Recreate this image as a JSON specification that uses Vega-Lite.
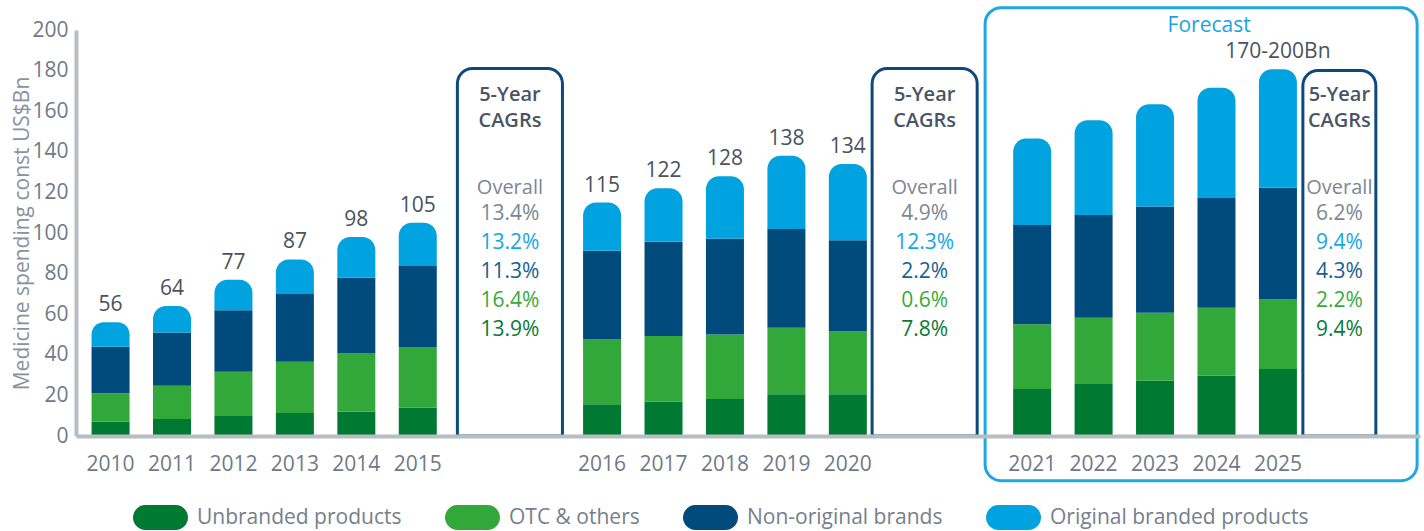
{
  "$schema": "https://vega.github.io/schema/vega-lite/v6.json",
  "width": 1344,
  "height": 406,
  "autosize": {"type": "none"},
  "padding": {"left": 76, "top": 30, "right": 4, "bottom": 95},
  "config": {
    "font": "Open Sans",
    "view": {"stroke": null},
    "text": {"font": "Open Sans"}
  },
  "datasets": {
    "bars": [
      {"slot": "2010", "category": "Unbranded products", "value": 7},
      {"slot": "2010", "category": "OTC & others", "value": 14},
      {"slot": "2010", "category": "Non-original brands", "value": 23},
      {"slot": "2010", "category": "Original branded products", "value": 12},
      {"slot": "2011", "category": "Unbranded products", "value": 8.4},
      {"slot": "2011", "category": "OTC & others", "value": 16.4},
      {"slot": "2011", "category": "Non-original brands", "value": 26.2},
      {"slot": "2011", "category": "Original branded products", "value": 13},
      {"slot": "2012", "category": "Unbranded products", "value": 9.8},
      {"slot": "2012", "category": "OTC & others", "value": 21.8},
      {"slot": "2012", "category": "Non-original brands", "value": 30.4},
      {"slot": "2012", "category": "Original branded products", "value": 15},
      {"slot": "2013", "category": "Unbranded products", "value": 11.3},
      {"slot": "2013", "category": "OTC & others", "value": 25.3},
      {"slot": "2013", "category": "Non-original brands", "value": 33.4},
      {"slot": "2013", "category": "Original branded products", "value": 17},
      {"slot": "2014", "category": "Unbranded products", "value": 12.1},
      {"slot": "2014", "category": "OTC & others", "value": 28.5},
      {"slot": "2014", "category": "Non-original brands", "value": 37.4},
      {"slot": "2014", "category": "Original branded products", "value": 20},
      {"slot": "2015", "category": "Unbranded products", "value": 13.9},
      {"slot": "2015", "category": "OTC & others", "value": 30},
      {"slot": "2015", "category": "Non-original brands", "value": 39.9},
      {"slot": "2015", "category": "Original branded products", "value": 21.2},
      {"slot": "2016", "category": "Unbranded products", "value": 15.7},
      {"slot": "2016", "category": "OTC & others", "value": 31.8},
      {"slot": "2016", "category": "Non-original brands", "value": 43.7},
      {"slot": "2016", "category": "Original branded products", "value": 23.8},
      {"slot": "2017", "category": "Unbranded products", "value": 17},
      {"slot": "2017", "category": "OTC & others", "value": 32.2},
      {"slot": "2017", "category": "Non-original brands", "value": 46.5},
      {"slot": "2017", "category": "Original branded products", "value": 26.3},
      {"slot": "2018", "category": "Unbranded products", "value": 18.2},
      {"slot": "2018", "category": "OTC & others", "value": 31.8},
      {"slot": "2018", "category": "Non-original brands", "value": 47.2},
      {"slot": "2018", "category": "Original branded products", "value": 30.8},
      {"slot": "2019", "category": "Unbranded products", "value": 20.6},
      {"slot": "2019", "category": "OTC & others", "value": 32.7},
      {"slot": "2019", "category": "Non-original brands", "value": 48.7},
      {"slot": "2019", "category": "Original branded products", "value": 36},
      {"slot": "2020", "category": "Unbranded products", "value": 20.6},
      {"slot": "2020", "category": "OTC & others", "value": 30.9},
      {"slot": "2020", "category": "Non-original brands", "value": 44.9},
      {"slot": "2020", "category": "Original branded products", "value": 37.6},
      {"slot": "2021", "category": "Unbranded products", "value": 23.1},
      {"slot": "2021", "category": "OTC & others", "value": 31.9},
      {"slot": "2021", "category": "Non-original brands", "value": 49},
      {"slot": "2021", "category": "Original branded products", "value": 42.5},
      {"slot": "2022", "category": "Unbranded products", "value": 25.6},
      {"slot": "2022", "category": "OTC & others", "value": 32.7},
      {"slot": "2022", "category": "Non-original brands", "value": 50.6},
      {"slot": "2022", "category": "Original branded products", "value": 46.7},
      {"slot": "2023", "category": "Unbranded products", "value": 27.2},
      {"slot": "2023", "category": "OTC & others", "value": 33.5},
      {"slot": "2023", "category": "Non-original brands", "value": 52.3},
      {"slot": "2023", "category": "Original branded products", "value": 50.4},
      {"slot": "2024", "category": "Unbranded products", "value": 29.7},
      {"slot": "2024", "category": "OTC & others", "value": 33.5},
      {"slot": "2024", "category": "Non-original brands", "value": 54.1},
      {"slot": "2024", "category": "Original branded products", "value": 54.3},
      {"slot": "2025", "category": "Unbranded products", "value": 33},
      {"slot": "2025", "category": "OTC & others", "value": 34.3},
      {"slot": "2025", "category": "Non-original brands", "value": 55},
      {"slot": "2025", "category": "Original branded products", "value": 58.4}
    ],
    "totals": [
      {"slot": "2010", "total": 56, "label": "56"},
      {"slot": "2011", "total": 64, "label": "64"},
      {"slot": "2012", "total": 77, "label": "77"},
      {"slot": "2013", "total": 87, "label": "87"},
      {"slot": "2014", "total": 98, "label": "98"},
      {"slot": "2015", "total": 105, "label": "105"},
      {"slot": "2016", "total": 115, "label": "115"},
      {"slot": "2017", "total": 122, "label": "122"},
      {"slot": "2018", "total": 128, "label": "128"},
      {"slot": "2019", "total": 138, "label": "138"},
      {"slot": "2020", "total": 134, "label": "134"},
      {"slot": "2025", "total": 180.7, "label": "170-200Bn"}
    ],
    "boxes": [
      {"slot": "g1", "period": "2010-2015", "line1": "5-Year", "line2": "CAGRs", "overall": "Overall"},
      {"slot": "g2", "period": "2015-2020", "line1": "5-Year", "line2": "CAGRs", "overall": "Overall"},
      {"slot": "g3", "period": "2020-2025", "line1": "5-Year", "line2": "CAGRs", "overall": "Overall"}
    ],
    "forecast": [
      {"slot": "fc", "label": "Forecast"}
    ],
    "cagr": [
      {"slot": "g1", "series": "Overall", "cagr": "13.4%"},
      {"slot": "g1", "series": "Original branded products", "cagr": "13.2%"},
      {"slot": "g1", "series": "Non-original brands", "cagr": "11.3%"},
      {"slot": "g1", "series": "OTC & others", "cagr": "16.4%"},
      {"slot": "g1", "series": "Unbranded products", "cagr": "13.9%"},
      {"slot": "g2", "series": "Overall", "cagr": "4.9%"},
      {"slot": "g2", "series": "Original branded products", "cagr": "12.3%"},
      {"slot": "g2", "series": "Non-original brands", "cagr": "2.2%"},
      {"slot": "g2", "series": "OTC & others", "cagr": "0.6%"},
      {"slot": "g2", "series": "Unbranded products", "cagr": "7.8%"},
      {"slot": "g3", "series": "Overall", "cagr": "6.2%"},
      {"slot": "g3", "series": "Original branded products", "cagr": "9.4%"},
      {"slot": "g3", "series": "Non-original brands", "cagr": "4.3%"},
      {"slot": "g3", "series": "OTC & others", "cagr": "2.2%"},
      {"slot": "g3", "series": "Unbranded products", "cagr": "9.4%"}
    ]
  },
  "encoding": {
    "x": {
      "field": "slot",
      "type": "ordinal",
      "scale": {
        "type": "band",
        "paddingInner": 0,
        "paddingOuter": 0.75,
        "domain": ["s_a","2010","s1","s2","s3","2011","s5","s6","s7","2012","s9","s10","s11","2013","s13","s14","s15","2014","s17","s18","s19","2015","s21","s22","s23","s24","s25","g1","s27","s28","s29","s30","s31","2016","s33","s34","s35","2017","s37","s38","s39","2018","s41","s42","s43","2019","s45","s46","s47","2020","s49","s50","s51","s52","g2","s54","s55","s56","s57","s58","s59","2021","s61","s62","s63","2022","s65","s66","s67","2023","s69","s70","fc","2024","s73","s74","s75","2025","s77","s78","s79","g3","s81","s82","s83","s_b"]
      },
      "axis": {
        "values": ["2010","2011","2012","2013","2014","2015","2016","2017","2018","2019","2020","2021","2022","2023","2024","2025"],
        "title": null,
        "labelAngle": 0,
        "ticks": false,
        "tickSize": 0,
        "labelPadding": 17,
        "labelFont": "Open Sans",
        "labelFontSize": 21,
        "labelColor": "#6f7a86",
        "domainColor": "#b8bdc2",
        "domainWidth": 4,
        "grid": false,
        "zindex": 1
      }
    }
  },
  "layer": [
    {
      "layer": [
        {
          "data": {"name": "bars"},
          "transform": [
            {"stack": "value", "groupby": ["slot"], "as": ["v0", "v1"]},
            {"filter": "datum.category !== 'Original branded products'"}
          ],
          "mark": {"type": "bar", "width": {"band": 2.474}},
          "encoding": {
            "y": {
              "field": "v1",
              "type": "quantitative",
              "scale": {"domain": [0, 200], "nice": false},
              "axis": {
                "values": [0, 20, 40, 60, 80, 100, 120, 140, 160, 180, 200],
                "title": "Medicine spending const US$Bn",
                "titleFont": "Open Sans",
                "titleFontSize": 21,
                "titleFontWeight": "normal",
                "titleColor": "#8a939c",
                "titlePadding": -1,
                "labelFont": "Open Sans",
                "labelFontSize": 21,
                "labelColor": "#6f7a86",
                "labelPadding": 8,
                "ticks": false,
                "tickSize": 0,
                "grid": false,
                "domainColor": "#b8bdc2",
                "domainWidth": 4,
                "zindex": 1
              }
            },
            "y2": {"field": "v0"},
            "color": {
              "field": "category",
              "type": "nominal",
              "scale": {
                "domain": ["Unbranded products", "OTC & others", "Non-original brands", "Original branded products"],
                "range": ["#007a33", "#33a83a", "#004a7c", "#00a3e0"]
              },
              "legend": {
                "orient": "none",
                "legendX": 72,
                "legendY": 475,
                "direction": "horizontal",
                "title": null,
                "symbolType": "M-1.2,-1L1.2,-1A1,1,0,0,1,1.2,1L-1.2,1A1,1,0,0,1,-1.2,-1Z",
                "symbolSize": 625,
                "symbolStrokeWidth": 0,
                "symbolOpacity": 1,
                "labelFont": "Open Sans",
                "labelFontSize": 21,
                "labelColor": "#76808b",
                "labelOffset": 24,
                "labelLimit": 400,
                "columnPadding": 42
              }
            }
          }
        },
        {
          "data": {"name": "bars"},
          "transform": [
            {"stack": "value", "groupby": ["slot"], "as": ["v0", "v1"]},
            {"filter": "datum.category === 'Original branded products'"}
          ],
          "mark": {"type": "bar", "width": {"band": 2.474}, "cornerRadiusTopLeft": 13, "cornerRadiusTopRight": 13},
          "encoding": {
            "y": {
              "field": "v1",
              "type": "quantitative",
              "scale": {"domain": [0, 200], "nice": false},
              "axis": {
                "values": [0, 20, 40, 60, 80, 100, 120, 140, 160, 180, 200],
                "title": "Medicine spending const US$Bn",
                "titleFont": "Open Sans",
                "titleFontSize": 21,
                "titleFontWeight": "normal",
                "titleColor": "#8a939c",
                "titlePadding": -1,
                "labelFont": "Open Sans",
                "labelFontSize": 21,
                "labelColor": "#6f7a86",
                "labelPadding": 8,
                "ticks": false,
                "tickSize": 0,
                "grid": false,
                "domainColor": "#b8bdc2",
                "domainWidth": 4,
                "zindex": 1
              }
            },
            "y2": {"field": "v0"},
            "color": {
              "field": "category",
              "type": "nominal",
              "scale": {
                "domain": ["Unbranded products", "OTC & others", "Non-original brands", "Original branded products"],
                "range": ["#007a33", "#33a83a", "#004a7c", "#00a3e0"]
              }
            }
          }
        },
        {
          "data": {"name": "forecast"},
          "mark": {"type": "bar", "width": {"band": 28.125}, "fillOpacity": 0, "stroke": "#1ea7e1", "strokeWidth": 3, "cornerRadius": 16},
          "encoding": {
            "y": {"datum": 211, "type": "quantitative"},
            "y2": {"datum": -22}
          }
        },
        {
          "data": {"name": "forecast"},
          "mark": {"type": "text", "fontSize": 21, "fontWeight": 500, "color": "#1aa3df", "baseline": "middle", "dx": 8},
          "encoding": {
            "y": {"datum": 202, "type": "quantitative"},
            "text": {"field": "label"}
          }
        },
        {
          "data": {"name": "boxes"},
          "transform": [{"filter": "datum.slot !== 'g3'"}],
          "mark": {"type": "bar", "width": {"band": 6.84}, "fillOpacity": 0, "stroke": "#0d4a7b", "strokeWidth": 3, "cornerRadiusTopLeft": 15, "cornerRadiusTopRight": 15},
          "encoding": {
            "y": {"datum": 181, "type": "quantitative"},
            "y2": {"datum": 0}
          }
        },
        {
          "data": {"name": "boxes"},
          "transform": [{"filter": "datum.slot === 'g3'"}],
          "mark": {"type": "bar", "width": {"band": 4.75}, "fillOpacity": 0, "stroke": "#0d4a7b", "strokeWidth": 3, "cornerRadiusTopLeft": 15, "cornerRadiusTopRight": 15},
          "encoding": {
            "y": {"datum": 180, "type": "quantitative"},
            "y2": {"datum": 0}
          }
        },
        {
          "data": {"name": "totals"},
          "mark": {"type": "text", "fontSize": 21, "color": "#4a535d", "baseline": "middle", "dy": -17},
          "encoding": {
            "y": {"field": "total", "type": "quantitative"},
            "text": {"field": "label"}
          }
        }
      ]
    },
    {
      "layer": [
        {
          "data": {"name": "boxes"},
          "mark": {"type": "text", "fontSize": 20, "fontWeight": 600, "color": "#4a5563", "baseline": "middle", "dy": -1},
          "encoding": {
            "y": {"datum": "Header", "type": "nominal", "scale": {"type": "point", "domain": ["t0","Header","gap1","gap2","gap3","Overall","Original branded products","Non-original brands","OTC & others","Unbranded products","b1","b2","b3"], "padding": 1, "align": 0.638}, "axis": null},
            "text": {"field": "line1"}
          }
        },
        {
          "data": {"name": "boxes"},
          "mark": {"type": "text", "fontSize": 20, "fontWeight": 600, "color": "#4a5563", "baseline": "middle", "dy": 25},
          "encoding": {
            "y": {"datum": "Header", "type": "nominal", "scale": {"type": "point", "domain": ["t0","Header","gap1","gap2","gap3","Overall","Original branded products","Non-original brands","OTC & others","Unbranded products","b1","b2","b3"], "padding": 1, "align": 0.638}, "axis": null},
            "text": {"field": "line2"}
          }
        },
        {
          "data": {"name": "boxes"},
          "mark": {"type": "text", "fontSize": 20, "color": "#7d8792", "baseline": "middle", "dy": -24},
          "encoding": {
            "y": {"datum": "Overall", "type": "nominal", "scale": {"type": "point", "domain": ["t0","Header","gap1","gap2","gap3","Overall","Original branded products","Non-original brands","OTC & others","Unbranded products","b1","b2","b3"], "padding": 1, "align": 0.638}, "axis": null},
            "text": {"field": "overall"}
          }
        },
        {
          "data": {"name": "cagr"},
          "mark": {"type": "text", "fontSize": 21, "baseline": "middle", "dy": 2},
          "encoding": {
            "y": {"field": "series", "type": "nominal", "scale": {"type": "point", "domain": ["t0","Header","gap1","gap2","gap3","Overall","Original branded products","Non-original brands","OTC & others","Unbranded products","b1","b2","b3"], "padding": 1, "align": 0.638}, "axis": null},
            "text": {"field": "cagr"},
            "color": {
              "field": "series",
              "type": "nominal",
              "scale": {
                "domain": ["Overall", "Original branded products", "Non-original brands", "OTC & others", "Unbranded products"],
                "range": ["#7d8792", "#13a8e2", "#16628f", "#38aa3a", "#0b7a35"]
              },
              "legend": null
            }
          }
        }
      ]
    }
  ],
  "resolve": {"scale": {"y": "independent", "color": "independent"}}
}
